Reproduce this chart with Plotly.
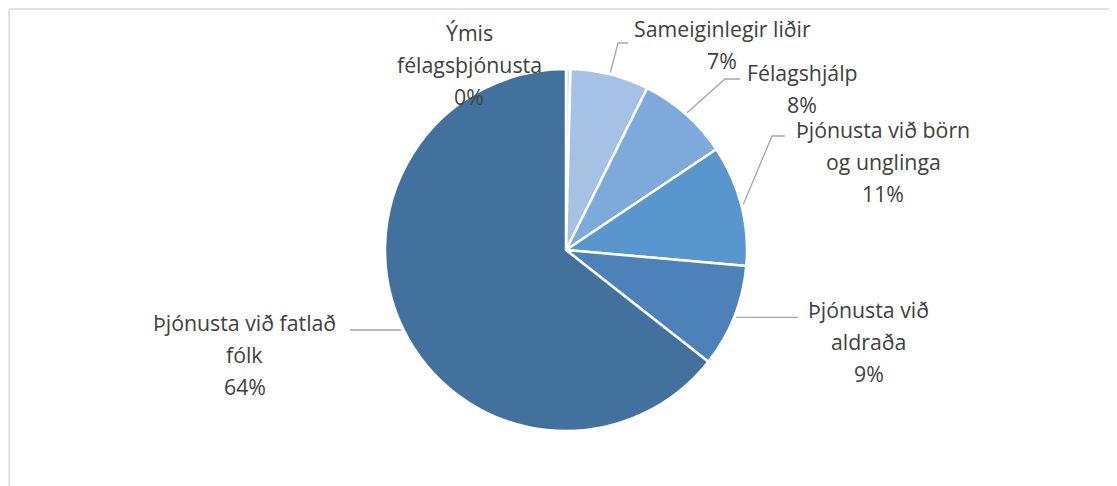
import math
import plotly.graph_objects as go

# ---- data ----
categories = ["Ýmis félagsþjónusta", "Sameiginlegir liðir", "Félagshjálp",
              "Þjónusta við börn og unglinga", "Þjónusta við aldraða",
              "Þjónusta við fatlað fólk"]
values = [0.4, 7.0, 8.2, 10.8, 9.2, 64.4]
label_lines = [["Ýmis", "félagsþjónusta"], ["Sameiginlegir liðir"], ["Félagshjálp"],
               ["Þjónusta við börn", "og unglinga"], ["Þjónusta við", "aldraða"],
               ["Þjónusta við fatlað", "fólk"]]
colors = ["#D5E1F2", "#A5C1E4", "#7EAADB", "#5A96CE", "#4C82B9", "#43719D"]

# ---- layout geometry (page pixels; the page has an 8px body margin) ----
W, H = 1117, 486
OFF = 8
CX, CY, R = 566, 250, 181
FS = 21.3
LINE_H = 32
TEXT_COLOR = "#404040"
LEADER_COLOR = "#A6A6A6"
FONT = "Open Sans"

# label placement: (center x, first baseline y)
label_pos = [(469, 40), (722, 36), (802, 80), (883, 137), (869, 317), (245, 330)]
# leader line: list of extra points after start (None = no leader)
leader_pts = [None, [(618, 43), (628, 43)], [(725, 79), (740, 79)],
              [(772, 136), (785, 136)], "h798", [(350, 330)]]


def px(x):
    return (x - OFF) / W


def py(y):
    return 1 - (y - OFF) / H


fig = go.Figure()
fig.add_trace(go.Pie(
    labels=categories, values=values, sort=False, direction="clockwise",
    rotation=0, marker=dict(colors=colors, line=dict(color="white", width=2.5)),
    textinfo="none", hoverinfo="label+percent", showlegend=False,
    domain=dict(x=[px(CX - R), px(CX + R)], y=[py(CY + R), py(CY - R)]),
))

total = sum(values)
annotations = []
shapes = []
cum = 0.0
for i, v in enumerate(values):
    pct = round(v / total * 100)
    mid = (cum + v / 2) / total * 2 * math.pi
    cum += v
    lines = label_lines[i] + [f"{pct}%"]
    lx, ly = label_pos[i]
    for k, t in enumerate(lines):
        base = ly + k * LINE_H
        annotations.append(dict(
            x=px(lx), y=py(base - 0.36 * FS), xref="paper", yref="paper",
            text=t, showarrow=False, xanchor="center", yanchor="middle",
            font=dict(family=FONT, size=FS, color=TEXT_COLOR)))
    lp = leader_pts[i]
    if lp is None:
        continue
    sx = CX + (R + 2) * math.sin(mid)
    sy = CY - (R + 2) * math.cos(mid)
    if lp == "h798":
        pts = [(sx, sy), (798, sy)]
    else:
        pts = [(sx, sy)] + lp
    path = "M " + " L ".join(f"{px(a):.5f},{py(b):.5f}" for a, b in pts)
    shapes.append(dict(type="path", path=path, xref="paper", yref="paper",
                       line=dict(color=LEADER_COLOR, width=1.3)))

# chart-area border (top and left edges visible)
shapes.append(dict(type="line", xref="paper", yref="paper", x0=0.001, x1=1.0,
                   y0=0.998, y1=0.998, line=dict(color="#D9D9D9", width=1.5)))
shapes.append(dict(type="line", xref="paper", yref="paper", x0=0.001, x1=0.001,
                   y0=0.998, y1=0.0, line=dict(color="#D9D9D9", width=1.5)))

fig.update_layout(
    width=W, height=H, margin=dict(l=0, r=0, t=0, b=0),
    paper_bgcolor="white", plot_bgcolor="white",
    annotations=annotations, shapes=shapes,
)

fig.write_html("out.html")
